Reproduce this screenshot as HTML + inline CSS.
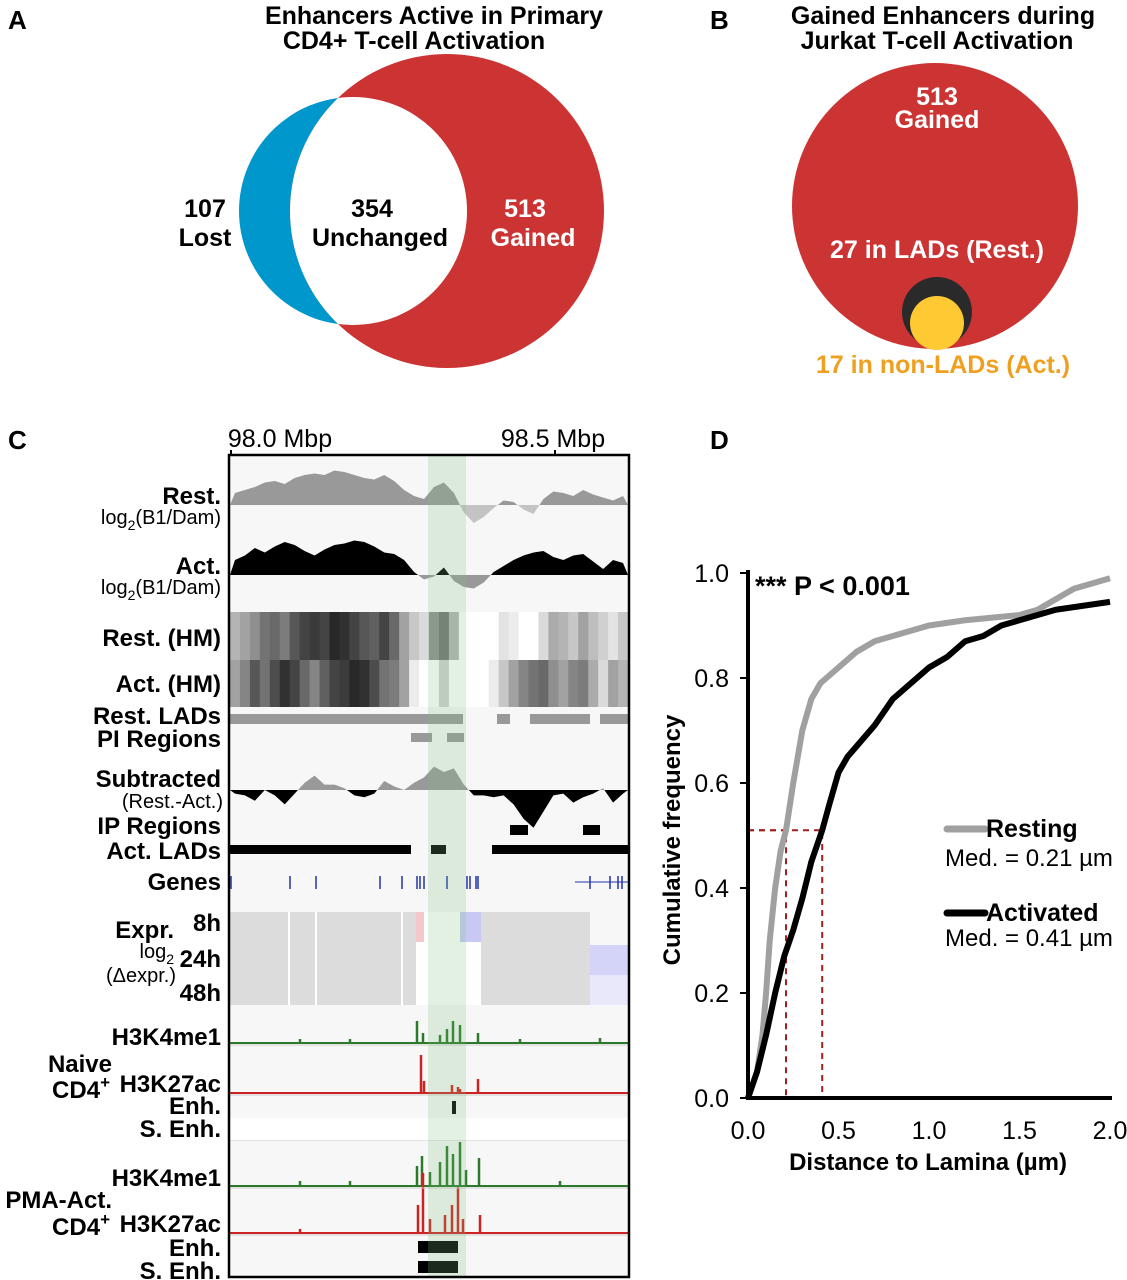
<!DOCTYPE html>
<html><head><meta charset="utf-8">
<style>
body{margin:0;background:#fff;}
svg{display:block;font-family:"Liberation Sans",Arial,sans-serif;}
.b{font-weight:bold;}
</style></head>
<body>
<svg id="fig" width="1127" height="1280" viewBox="0 0 1127 1280" xmlns="http://www.w3.org/2000/svg">
<!-- Panel A -->
<g>
<text x="8" y="29" font-size="26" class="b">A</text>
<text x="434" y="24" font-size="25" class="b" text-anchor="middle">Enhancers Active in Primary</text>
<text x="414" y="49" font-size="25" class="b" text-anchor="middle">CD4+ T-cell Activation</text>
<defs><clipPath id="clipBlue"><circle cx="353" cy="211" r="114"/></clipPath></defs>
<circle cx="353" cy="211" r="114" fill="#0097cc"/>
<circle cx="447" cy="211" r="157" fill="#cc3333"/>
<circle cx="447" cy="211" r="157" fill="#fff" clip-path="url(#clipBlue)"/>
<g font-size="25" class="b" text-anchor="middle">
<text x="205" y="217">107</text>
<text x="205" y="246">Lost</text>
<text x="372" y="217">354</text>
<text x="380" y="246">Unchanged</text>
<text x="525" y="217" fill="#fff">513</text>
<text x="533" y="246" fill="#fff">Gained</text>
</g>
</g>
<!-- Panel B -->
<g>
<text x="710" y="29" font-size="26" class="b">B</text>
<text x="943" y="24" font-size="25" class="b" text-anchor="middle">Gained Enhancers during</text>
<text x="937" y="49" font-size="25" class="b" text-anchor="middle">Jurkat T-cell Activation</text>
<circle cx="935" cy="206" r="143" fill="#cc3333"/>
<circle cx="937" cy="312" r="35" fill="#2a2a2a"/>
<circle cx="937" cy="323" r="27" fill="#ffc933"/>
<g font-size="25" class="b" text-anchor="middle" fill="#fff">
<text x="937" y="105">513</text>
<text x="937" y="128">Gained</text>
<text x="937" y="258">27 in LADs (Rest.)</text>
</g>
<text x="943" y="373" font-size="25" class="b" text-anchor="middle" fill="#f0a020">17 in non-LADs (Act.)</text>
</g>
<!-- Panel C -->
<g id="panelC">
<text x="8" y="449" font-size="26" class="b">C</text>
<text x="280" y="447" font-size="25" text-anchor="middle">98.0 Mbp</text>
<text x="553" y="447" font-size="25" text-anchor="middle">98.5 Mbp</text>
<line x1="231" y1="450" x2="231" y2="457" stroke="#000" stroke-width="2"/>
<line x1="555" y1="450" x2="555" y2="457" stroke="#000" stroke-width="2"/>
<rect x="230" y="456" width="398" height="820" fill="#f7f7f7"/>
<g id="tracks"></g>
<rect x="428" y="456" width="38" height="820" fill="#7fbf7f" opacity="0.22"/>
<rect x="229" y="455" width="400" height="822" fill="none" stroke="#000" stroke-width="2.5"/>
<g font-size="24" class="b" text-anchor="end">
<text x="221" y="504">Rest.</text>
<text x="221" y="574">Act.</text>
<text x="221" y="646">Rest. (HM)</text>
<text x="221" y="692">Act. (HM)</text>
<text x="221" y="724">Rest. LADs</text>
<text x="221" y="747">PI Regions</text>
<text x="221" y="787">Subtracted</text>
<text x="221" y="834">IP Regions</text>
<text x="221" y="859">Act. LADs</text>
<text x="221" y="890">Genes</text>
<text x="174" y="938">Expr.</text>
<text x="221" y="931">8h</text>
<text x="221" y="967">24h</text>
<text x="221" y="1001">48h</text>
<text x="221" y="1045">H3K4me1</text>
<text x="221" y="1092">H3K27ac</text>
<text x="221" y="1114">Enh.</text>
<text x="221" y="1137">S. Enh.</text>
<text x="221" y="1186">H3K4me1</text>
<text x="221" y="1232">H3K27ac</text>
<text x="221" y="1256">Enh.</text>
<text x="221" y="1279">S. Enh.</text>
<text x="112" y="1072">Naive</text>
<text x="110" y="1098">CD4<tspan font-size="17" dy="-10">+</tspan></text>
<text x="112" y="1208">PMA-Act.</text>
<text x="110" y="1235">CD4<tspan font-size="17" dy="-10">+</tspan></text>
</g>
<g font-size="20" text-anchor="end">
<text x="221" y="524">log<tspan font-size="14" dy="6">2</tspan><tspan dy="-6">(B1/Dam)</tspan></text>
<text x="221" y="594">log<tspan font-size="14" dy="6">2</tspan><tspan dy="-6">(B1/Dam)</tspan></text>
<text x="223" y="808">(Rest.-Act.)</text>
<text x="174" y="958">log<tspan font-size="14" dy="6">2</tspan></text>
<text x="176" y="982">(Δexpr.)</text>
</g>
</g>
<!-- Panel D -->
<g id="panelD">
<text x="710" y="449" font-size="26" class="b">D</text>
<g id="dplot"></g>
<text x="755" y="595" font-size="27" class="b">*** P &lt; 0.001</text>
<text transform="translate(680,840) rotate(-90)" font-size="24" class="b" text-anchor="middle">Cumulative frequency</text>
<text x="928" y="1170" font-size="24" class="b" text-anchor="middle">Distance to Lamina (µm)</text>
<line x1="947" y1="829" x2="985" y2="829" stroke="#a0a0a0" stroke-width="7" stroke-linecap="round"/>
<text x="986" y="837" font-size="25" class="b">Resting</text>
<text x="945" y="866" font-size="24">Med. = 0.21 µm</text>
<line x1="947" y1="913" x2="985" y2="913" stroke="#000" stroke-width="7" stroke-linecap="round"/>
<text x="986" y="921" font-size="25" class="b">Activated</text>
<text x="945" y="946" font-size="24">Med. = 0.41 µm</text>
</g>
</svg>
<script>
const NS='http://www.w3.org/2000/svg';
// ---------- Panel D data ----------
const restX=[0,0.05,0.08,0.1,0.12,0.15,0.18,0.21,0.25,0.3,0.35,0.4,0.5,0.6,0.7,0.8,0.9,1.0,1.2,1.5,1.6,1.7,1.8,1.9,2.0];
const restY=[0,0.05,0.12,0.2,0.3,0.4,0.47,0.51,0.6,0.7,0.76,0.79,0.82,0.85,0.87,0.88,0.89,0.9,0.91,0.92,0.93,0.95,0.97,0.98,0.99];
const actX=[0,0.05,0.1,0.15,0.2,0.25,0.3,0.35,0.41,0.45,0.5,0.55,0.6,0.7,0.8,0.9,1.0,1.1,1.2,1.3,1.4,1.5,1.6,1.7,1.8,2.0];
const actY=[0,0.05,0.12,0.2,0.27,0.32,0.38,0.45,0.51,0.56,0.62,0.65,0.67,0.71,0.76,0.79,0.82,0.84,0.87,0.88,0.9,0.91,0.92,0.93,0.935,0.945];
const medians=[0.21,0.41];
const medianY=[0.51];
const xTicks=[0,0.5,1.0,1.5,2.0];
const xTickLabels=['0.0','0.5','1.0','1.5','2.0'];
const yTicks=[0,0.2,0.4,0.6,0.8,1.0];
const yTickLabels=['0.0','0.2','0.4','0.6','0.8','1.0'];
const sx=v=>748+v*181, sy=v=>1098-v*525;
function el(tag,attrs,parent){const e=document.createElementNS(NS,tag);for(const k in attrs)e.setAttribute(k,attrs[k]);parent.appendChild(e);return e;}
const dp=document.getElementById('dplot');
medians.forEach((m,i)=>{
  const l=el('path',{d:`M${sx(0)},${sy(medianY[0])}H${sx(m)}V${sy(0)}`,fill:'none',stroke:'#a02020','stroke-width':2,'stroke-dasharray':'6,5'},dp);
  
  
});
const gl=el('polyline',{points:restX.map((x,i)=>sx(x)+','+sy(restY[i])).join(' '),fill:'none',stroke:'#a0a0a0','stroke-width':6,'stroke-linejoin':'round'},dp);


const bl=el('polyline',{points:actX.map((x,i)=>sx(x)+','+sy(actY[i])).join(' '),fill:'none',stroke:'#000','stroke-width':6,'stroke-linejoin':'round'},dp);


const ya=el('line',{x1:748,y1:sy(1.0)-3,x2:748,y2:1100,stroke:'#000','stroke-width':4},dp);


const xa=el('line',{x1:746,y1:1098,x2:1112,y2:1098,stroke:'#000','stroke-width':4},dp);


xTicks.forEach((t,i)=>{
  const tx=el('text',{x:sx(t),y:1139,'font-size':25,'text-anchor':'middle'},dp);tx.textContent=xTickLabels[i];
  
  
});
yTicks.forEach((t,i)=>{
  el('line',{x1:740,y1:sy(t),x2:748,y2:sy(t),stroke:'#000','stroke-width':2},dp);
  const tx=el('text',{x:729,y:sy(t)+9,'font-size':25,'text-anchor':'end'},dp);tx.textContent=yTickLabels[i];
  
  
});
// ---------- Panel C data ----------
const restTrack=[0.8,1.0,1.2,1.5,1.6,1.4,1.8,2.0,2.1,2.0,2.3,2.2,2.0,1.8,1.7,2.0,1.6,1.0,0.6,0.4,1.2,1.5,0.8,-0.5,-1.2,-0.8,-0.2,0.3,0.2,-0.3,-0.6,0.4,0.9,0.8,0.6,1.0,0.7,0.5,0.3,0.6];
const actTrack=[1.0,1.3,1.8,1.5,1.9,2.2,2.0,1.6,1.3,1.7,2.0,2.1,2.3,2.2,1.9,1.5,1.4,1.0,0.2,-0.3,-0.1,0.5,-0.4,-0.8,-0.9,-0.5,0.2,0.6,1.0,1.3,1.5,1.6,1.2,1.0,1.3,1.4,0.9,0.4,1.0,0.8];
const restLADs=[[229,463],[497,510],[530,590],[600,628]];
const piRegions=[[411,432],[447,464]];
const ipRegions=[[510,528],[583,600]];
const actLADs=[[229,411],[431,446],[492,628]];
const genes=[231,290,316,380,402,417,420,424,447,467,470,476,478,590,610,618,622];
const k4Naive=[[417,22],[423,10],[440,8],[447,14],[453,22],[460,18],[478,10],[300,4],[350,4],[520,4],[600,5]];
const k27Naive=[[421,38],[424,12],[452,8],[458,6],[478,14],[460,4]];
const k4Pma=[[417,20],[422,30],[430,14],[440,24],[447,40],[453,32],[460,44],[466,16],[479,28],[300,5],[350,5],[560,5]];
const k27Pma=[[418,28],[423,60],[430,14],[445,18],[452,28],[458,46],[463,14],[480,18],[300,4]];
const X0=230,W=398,n=restTrack.length,dx=W/n;
const tr=document.getElementById('tracks');
function area(vals,base,scale,fillPos,fillNeg,name){
  const pts=vals.map((v,i)=>[X0+(i+0.5)*dx,base-v*scale]);
  const d='M'+X0+','+base+pts.map(p=>'L'+p[0]+','+p[1]).join('')+'L'+(X0+W)+','+base+'Z';
  const cp='c'+name;
  const c1=el('clipPath',{id:cp+'a'},tr);el('rect',{x:X0,y:base-100,width:W,height:100},c1);
  const c2=el('clipPath',{id:cp+'b'},tr);el('rect',{x:X0,y:base,width:W,height:100},c2);
  const a=el('path',{d,fill:fillPos,'clip-path':`url(#${cp}a)`},tr);
  
  
  const b=el('path',{d,fill:fillNeg,'clip-path':`url(#${cp}b)`},tr);
  
  
}
area(restTrack,505,15,'#999','#c4c4c4','rest-track');
area(actTrack,575,15,'#000','#999','act-track');
area(restTrack.map((v,i)=>v-actTrack[i]),790,18,'#999','#000','subtracted-track');
function heat(vals,y,h,name){
  vals.forEach((v,i)=>{
    const g=Math.round(255-Math.max(0,Math.min(1,v/2.3))*215);
    const r=el('rect',{x:X0+i*dx,y,width:dx+0.5,height:h,fill:`rgb(${g},${g},${g})`},tr);
    
    
  });
}
heat(restTrack,612,48,'rest-hm');
heat(actTrack,660,47,'act-hm');
function bars(list,y,h,fill,name){list.forEach(s=>{const r=el('rect',{x:s[0],y,width:s[1]-s[0],height:h,fill},tr);
  
  });}
bars(restLADs,714,10,'#999','rest-lad');
bars(piRegions,733,9,'#999','pi-region');
bars(ipRegions,825,10,'#000','ip-region');
bars(actLADs,845,9,'#000','act-lad');
el('line',{x1:575,y1:882,x2:628,y2:882,stroke:'#2233aa','stroke-width':1},tr);
genes.forEach(g=>{const l=el('line',{x1:g,y1:876,x2:g,y2:889,stroke:'#2233aa','stroke-width':1.5},tr);
  
  });
el('rect',{x:230,y:912,width:360,height:93,fill:'#dcdcdc'},tr);
el('rect',{x:416,y:912,width:65,height:93,fill:'#fff'},tr);
el('rect',{x:416,y:912,width:8,height:30,fill:'#f4c8c8'},tr);
el('rect',{x:460,y:912,width:21,height:30,fill:'#c8c8f4'},tr);
el('rect',{x:590,y:945,width:38,height:30,fill:'#d4d4f8'},tr);
el('rect',{x:590,y:975,width:38,height:30,fill:'#e8e8fa'},tr);
[289,316,402].forEach(x=>el('line',{x1:x,y1:912,x2:x,y2:1005,stroke:'#fff','stroke-width':2},tr));
function chip(peaks,base,color,name){
  el('line',{x1:X0,y1:base,x2:X0+W,y2:base,stroke:color,'stroke-width':2},tr);
  peaks.forEach(p=>{const l=el('line',{x1:p[0],y1:base,x2:p[0],y2:base-p[1],stroke:color,'stroke-width':2.5},tr);
    
    });
}
chip(k4Naive,1043,'#2a7a2a','h3k4me1-naive');
chip(k27Naive,1093,'#cc2222','h3k27ac-naive');
chip(k4Pma,1186,'#2a7a2a','h3k4me1-pma');
chip(k27Pma,1233,'#cc2222','h3k27ac-pma');
[1045,1095,1140,1188,1235].forEach(y=>el('line',{x1:X0,y1:y,x2:X0+W,y2:y,stroke:'#ccc','stroke-width':1},tr));
el('rect',{x:230,y:1118,width:398,height:22,fill:'#fff'},tr);
bars([[452,456]],1101,13,'#000','enh-naive');
bars([[418,458]],1241,12,'#000','enh-pma');
bars([[418,458]],1261,12,'#000','senh-pma');
</script>
</body></html>
